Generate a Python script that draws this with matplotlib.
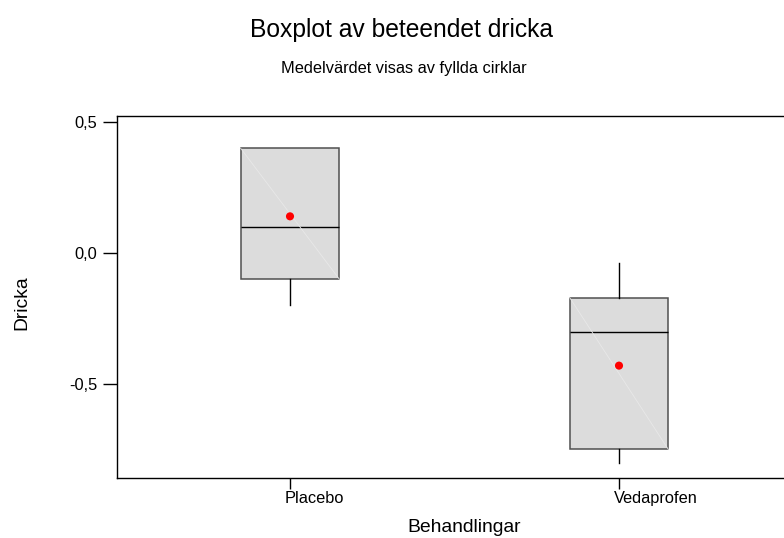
import matplotlib
matplotlib.use("Agg")
import matplotlib.pyplot as plt
import matplotlib.transforms as mtransforms
from matplotlib.ticker import FuncFormatter

plt.rcParams['font.family'] = ['Liberation Sans', 'DejaVu Sans']

categories = ["Placebo", "Vedaprofen"]
whisker_low = [-0.20, -0.80]
q1 = [-0.10, -0.75]
median = [0.10, -0.30]
q3 = [0.40, -0.17]
whisker_high = [0.40, -0.04]
means = [0.14, -0.43]

W, H = 784, 538
fig = plt.figure(figsize=(W / 100, H / 100), dpi=100)
ax = fig.add_axes([117 / W, 1 - 478 / H, (790 - 117) / W, (478 - 116) / H])

positions = [1, 2]
stats = []
for i, c in enumerate(categories):
    stats.append(dict(label=c, whislo=whisker_low[i], q1=q1[i], med=median[i],
                      q3=q3[i], whishi=whisker_high[i], fliers=[]))

bp = ax.bxp(stats, positions=positions, widths=0.30, patch_artist=True,
            showcaps=False, showfliers=False,
            boxprops=dict(facecolor='#dcdcdc', edgecolor='#505050', linewidth=1.1),
            medianprops=dict(color='black', linewidth=1.0),
            whiskerprops=dict(color='black', linewidth=1.0))

# faint diagonal highlight inside each box
for i, p in enumerate(positions):
    ax.plot([p - 0.15, p + 0.15], [q3[i], q1[i]], color='#e8e8e8', lw=0.6, zorder=2.5)

ax.scatter(positions, means, s=34, color='#ff0000', zorder=4, edgecolors='none')

ax.set_xlim(1 - 173 / 329, 2 + 171 / 329)
ax.set_ylim(-0.859, 0.523)
ax.set_yticks([0.5, 0.0, -0.5])
ax.yaxis.set_major_formatter(FuncFormatter(lambda v, p: f"{v:.1f}".replace('.', ',')))
ax.set_xticks(positions)
ax.set_xticklabels(categories)

ax.tick_params(axis='y', direction='out', length=10, width=1, pad=4, labelsize=11.8)
ax.tick_params(axis='x', direction='out', length=8, width=1, pad=1.5, labelsize=11.8)
offset = mtransforms.ScaledTranslation(-5 / 100, 0, fig.dpi_scale_trans)
for lbl in ax.get_xticklabels():
    lbl.set_horizontalalignment('left')
    lbl.set_transform(lbl.get_transform() + offset)

for s in ax.spines.values():
    s.set_linewidth(1.0)

fig.text(401.5 / W, 1 - 37 / H, "Boxplot av beteendet dricka", ha='center', va='baseline', fontsize=17.7)
fig.text(403.5 / W, 1 - 73 / H, "Medelvärdet visas av fyllda cirklar", ha='center', va='baseline', fontsize=11.8)
fig.text(464 / W, 1 - 532 / H, "Behandlingar", ha='center', va='baseline', fontsize=13.9)
fig.text(22 / W, 1 - 303 / H, "Dricka", ha='center', va='center', rotation=90, fontsize=13.9)

fig.savefig("out.png", dpi=100)
